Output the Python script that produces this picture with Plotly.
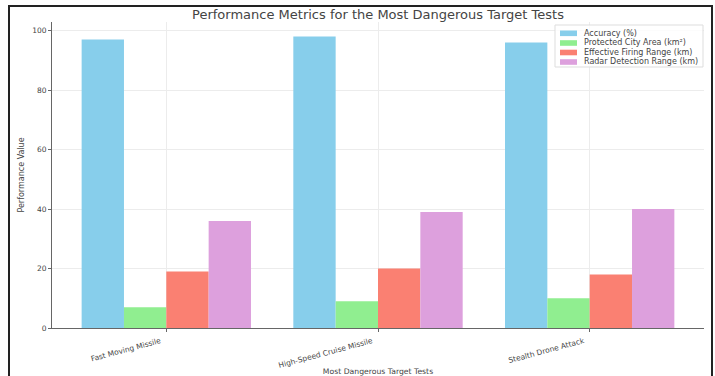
import plotly.graph_objects as go

categories = ["Fast Moving Missile", "High-Speed Cruise Missile", "Stealth Drone Attack"]
series_names = ["Accuracy (%)", "Protected City Area (km²)", "Effective Firing Range (km)", "Radar Detection Range (km)"]
accuracy = [97, 98, 96]
protected_area = [7, 9, 10]
firing_range = [19, 20, 18]
radar_range = [36, 39, 40]
colors = ["#87CEEB", "#90EE90", "#FA8072", "#DDA0DD"]

W, H = 715, 376
L, R, T, B = 52, 11, 22, 48
pw, ph = W - L - R, H - T - B


def px(x):
    return (x - L) / pw


def py(y):
    return (H - B - y) / ph


fig = go.Figure()
for name, vals, c in zip(series_names, [accuracy, protected_area, firing_range, radar_range], colors):
    fig.add_trace(go.Bar(x=categories, y=vals, name=name, showlegend=False,
                         marker=dict(color=c, line=dict(width=0))))

font = "DejaVu Sans, Verdana, sans-serif"
txt = "#444"
fig.update_layout(
    width=W, height=H,
    margin=dict(l=L, r=R, t=T, b=B, autoexpand=False),
    paper_bgcolor="white", plot_bgcolor="white",
    barmode="group", bargap=0.2, bargroupgap=0,
    font=dict(family=font, size=7, color=txt),
    title=dict(text="Performance Metrics for the Most Dangerous Target Tests",
               x=(L + pw / 2) / W, xanchor="center", y=1 - 14 / H, yanchor="middle",
               font=dict(size=13, color=txt, family=font)),
    xaxis=dict(range=[-0.54, 2.54], tickangle=-15, showgrid=True, gridcolor="#ececec",
               gridwidth=1, showline=True, linecolor="#666", linewidth=1, automargin=False,
               ticks="outside", ticklen=3, tickcolor="#666",
               ticklabelshift=-6, ticklabelstandoff=2,
               tickfont=dict(size=7.5, color=txt),
               title=dict(text="Most Dangerous Target Tests", font=dict(size=7.7, color=txt), standoff=10)),
    yaxis=dict(range=[0, 102.9], tickvals=[0, 20, 40, 60, 80, 100], showgrid=True,
               gridcolor="#ececec", gridwidth=1, showline=True, linecolor="#666", linewidth=1,
               automargin=False,
               ticks="outside", ticklen=3, tickcolor="#666", zeroline=False,
               tickfont=dict(size=7.5, color=txt),
               title=dict(text="Performance Value", font=dict(size=8, color=txt), standoff=6)),
    showlegend=False,
)

# legend drawn by hand (compact, like the reference)
fig.add_shape(type="rect", xref="paper", yref="paper",
              x0=px(555), x1=px(703), y0=py(67), y1=py(25),
              line=dict(color="#dddddd", width=1), fillcolor="rgba(255,255,255,0.85)", layer="above")
row_y = [33.3, 43.0, 52.5, 62.0]
for name, c, ry in zip(series_names, colors, row_y):
    fig.add_shape(type="rect", xref="paper", yref="paper",
                  x0=px(560), x1=px(577), y0=py(ry + 2.8), y1=py(ry - 2.8),
                  line=dict(width=0), fillcolor=c, layer="above")
    fig.add_annotation(xref="paper", yref="paper", x=px(582), y=py(ry), text=name,
                       showarrow=False, xanchor="left", yanchor="middle",
                       font=dict(size=8, color=txt, family=font))

# outer frame of the picture
fig.add_shape(type="rect", xref="paper", yref="paper",
              x0=px(9), x1=px(712), y0=py(380), y1=py(6),
              line=dict(color="#222", width=2), fillcolor="rgba(0,0,0,0)", layer="above")

fig.write_html("out.html")
